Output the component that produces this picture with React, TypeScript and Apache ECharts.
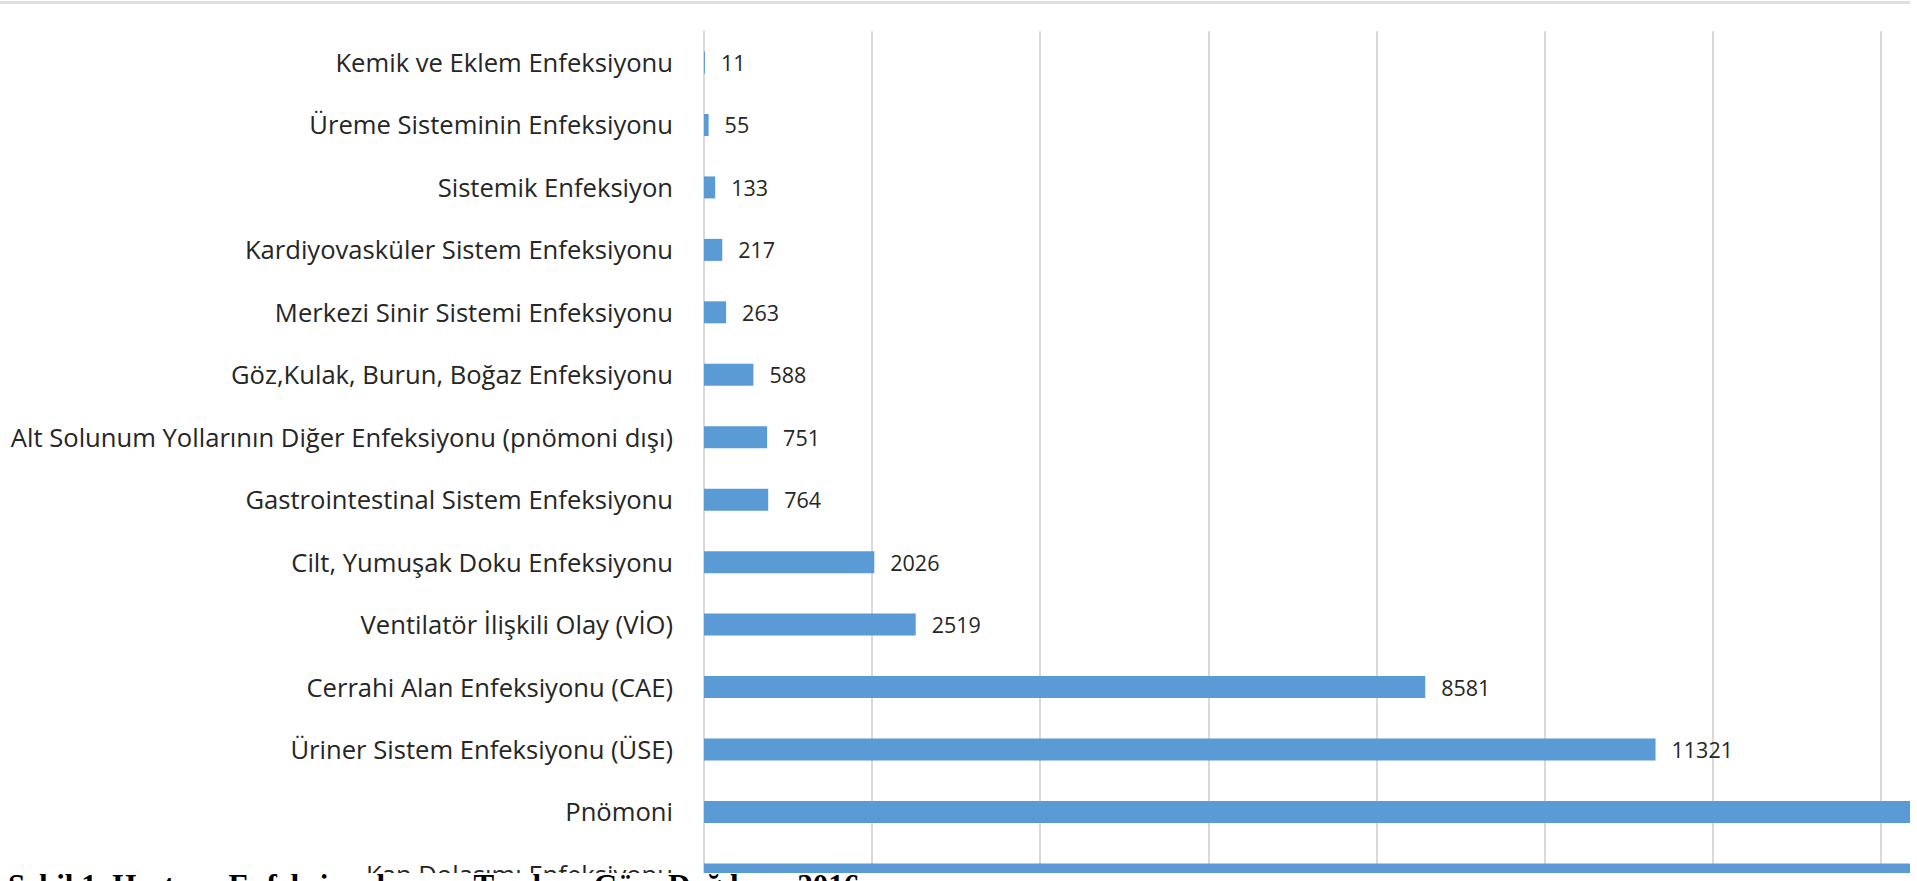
import React, { useEffect, useRef } from "react";
import * as echarts from "echarts";

const categories = [
  "Kemik ve Eklem Enfeksiyonu",
  "Üreme Sisteminin Enfeksiyonu",
  "Sistemik Enfeksiyon",
  "Kardiyovasküler Sistem Enfeksiyonu",
  "Merkezi Sinir Sistemi Enfeksiyonu",
  "Göz,Kulak, Burun, Boğaz Enfeksiyonu",
  "Alt Solunum Yollarının Diğer Enfeksiyonu (pnömoni dışı)",
  "Gastrointestinal Sistem Enfeksiyonu",
  "Cilt, Yumuşak Doku Enfeksiyonu",
  "Ventilatör İlişkili Olay (VİO)",
  "Cerrahi Alan Enfeksiyonu (CAE)",
  "Üriner Sistem Enfeksiyonu (ÜSE)",
  "Pnömoni",
  "Kan Dolaşımı Enfeksiyonu",
];

const values = [11, 55, 133, 217, 263, 588, 751, 764, 2026, 2519, 8581, 11321, 15254, 18340];

const axisMin = 0;
const axisMax = 20000;
const axisInterval = 2000;

const caption = "Şekil 1. Hastane Enfeksiyonlarının Tanılara Göre Dağılımı, 2016";

export default function App() {
  const ref = useRef<HTMLDivElement>(null);

  useEffect(() => {
    if (!ref.current) return;
    const chart = echarts.init(ref.current, null, { renderer: "svg" });
    chart.setOption({
      animation: false,
      backgroundColor: "#ffffff",
      grid: {
        left: 704,
        top: 31.3,
        width: 1681,
        height: 874.3,
        containLabel: false,
      },
      xAxis: {
        type: "value",
        min: axisMin,
        max: axisMax,
        interval: axisInterval,
        axisLabel: { show: false },
        axisLine: { show: false },
        axisTick: { show: false },
        splitLine: { show: true, lineStyle: { color: "#d9d9d9", width: 2 } },
      },
      yAxis: {
        type: "category",
        data: categories,
        inverse: true,
        axisTick: { show: false },
        axisLine: { show: true, lineStyle: { color: "#d9d9d9", width: 2 } },
        axisLabel: {
          margin: 31,
          fontFamily: "Open Sans",
          fontSize: 25.6,
          color: "#262626",
        },
      },
      series: [
        {
          type: "bar",
          data: values,
          barWidth: 22,
          itemStyle: { color: "#5b9bd5" },
          label: {
            show: true,
            position: "right",
            distance: 16,
            fontFamily: "Open Sans",
            fontSize: 21.5,
            color: "#262626",
          },
        },
      ],
    });
    return () => chart.dispose();
  }, []);

  return (
    <div
      style={{
        position: "fixed",
        left: 0,
        top: 0,
        width: 1917,
        height: 881,
        overflow: "hidden",
        background: "#ffffff",
      }}
    >
      <div
        style={{
          position: "absolute",
          left: 0,
          top: 0,
          width: 1910,
          height: 873,
          overflow: "hidden",
        }}
      >
        <div ref={ref} style={{ position: "absolute", left: 0, top: 0, width: 2420, height: 950 }} />
      </div>
      <div
        style={{
          position: "absolute",
          left: 0,
          top: 1,
          width: 1910,
          height: 3,
          background: "#dedede",
        }}
      />
      <div
        style={{
          position: "absolute",
          left: 8,
          top: 870,
          fontFamily: "'Liberation Serif', serif",
          fontWeight: "bold",
          fontSize: 31,
          lineHeight: "31px",
          color: "#000",
          whiteSpace: "nowrap",
        }}
      >
        {caption}
      </div>
    </div>
  );
}
